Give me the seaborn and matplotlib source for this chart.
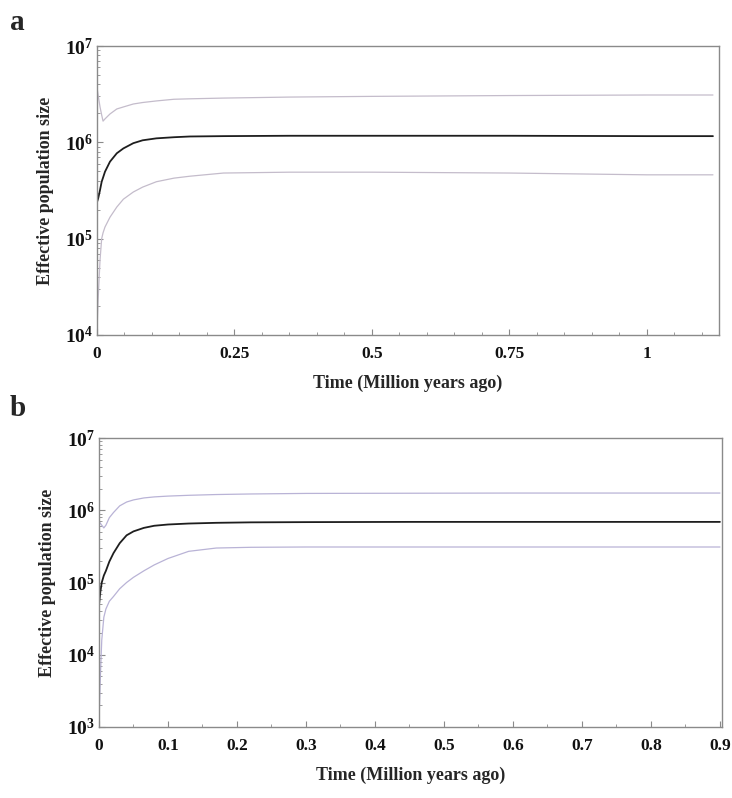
import numpy as np
import pandas as pd
import matplotlib
matplotlib.use("Agg")
import matplotlib.pyplot as plt
import matplotlib.ticker as mticker
import seaborn as sns

# ---- data ----
t_a = [0, 0.002, 0.0055, 0.0085, 0.011, 0.0145, 0.0236, 0.036, 0.048, 0.066, 0.083,
       0.108, 0.14, 0.169, 0.23, 0.35, 0.5, 0.75, 1.0, 1.12]
mid_a = [2.4e5, 2.6e5, 3.2e5, 3.9e5, 4.3e5, 4.95e5, 6.3e5, 7.7e5, 8.65e5, 9.8e5, 1.05e6,
         1.10e6, 1.13e6, 1.15e6, 1.16e6, 1.17e6, 1.17e6, 1.17e6, 1.16e6, 1.16e6]
up_a = [3.7e6, 3.1e6, 2.33e6, 1.92e6, 1.66e6, 1.75e6, 1.97e6, 2.22e6, 2.33e6, 2.5e6, 2.59e6,
        2.69e6, 2.8e6, 2.83e6, 2.88e6, 2.95e6, 3.0e6, 3.06e6, 3.1e6, 3.1e6]
low_a = [1.1e4, 2.3e4, 6e4, 1.0e5, 1.15e5, 1.32e5, 1.67e5, 2.13e5, 2.57e5, 3.05e5, 3.43e5,
         3.9e5, 4.25e5, 4.45e5, 4.8e5, 4.9e5, 4.9e5, 4.8e5, 4.6e5, 4.6e5]

t_b = [0, 0.002, 0.004, 0.007, 0.01, 0.015, 0.021, 0.03, 0.04, 0.05, 0.065, 0.08, 0.1,
       0.13, 0.17, 0.22, 0.3, 0.45, 0.6, 0.8, 0.9]
mid_b = [4.9e4, 7.5e4, 1.0e5, 1.25e5, 1.45e5, 1.95e5, 2.55e5, 3.5e5, 4.5e5, 5.1e5, 5.7e5,
         6.1e5, 6.35e5, 6.55e5, 6.7e5, 6.8e5, 6.85e5, 6.9e5, 6.9e5, 6.9e5, 6.9e5]
up_b = [6.95e5, 6.6e5, 6.2e5, 5.7e5, 6.2e5, 7.9e5, 9.3e5, 1.15e6, 1.3e6, 1.39e6, 1.48e6,
        1.53e6, 1.57e6, 1.61e6, 1.65e6, 1.68e6, 1.71e6, 1.72e6, 1.73e6, 1.73e6, 1.73e6]
low_b = [1.2e3, 5e3, 1.6e4, 3.3e4, 4.3e4, 5.5e4, 6.4e4, 8.2e4, 1.0e5, 1.18e5, 1.45e5,
         1.75e5, 2.15e5, 2.7e5, 3.0e5, 3.07e5, 3.1e5, 3.1e5, 3.1e5, 3.1e5, 3.1e5]

xticks_a = [0, 0.25, 0.5, 0.75, 1]
xticklabels_a = ["0", "0.25", "0.5", "0.75", "1"]
xticks_b = [0, 0.1, 0.2, 0.3, 0.4, 0.5, 0.6, 0.7, 0.8, 0.9]
xticklabels_b = ["0", "0.1", "0.2", "0.3", "0.4", "0.5", "0.6", "0.7", "0.8", "0.9"]

sns.set_theme(style="white")
plt.rcParams["font.family"] = ["Liberation Serif", "DejaVu Serif"]
plt.rcParams["mathtext.fontset"] = "custom"
plt.rcParams["mathtext.rm"] = "Liberation Serif"
plt.rcParams["mathtext.bf"] = "Liberation Serif:bold"

fig = plt.figure(figsize=(7.32, 7.98), dpi=100)
ax_a = fig.add_axes([97 / 732, 1 - 335 / 798, 622 / 732, 289 / 798])
ax_b = fig.add_axes([99 / 732, 1 - 727 / 798, 623 / 732, 289 / 798])

spine_col = "#8a8a8a"
band_col_a = "#c4bccb"
band_col_b = "#b9b3d6"


def draw(ax, t, mid, up, low, band_col, ylim, xlim, xticks, xlabels, minor_step):
    sns.lineplot(x=t, y=up, ax=ax, color=band_col, lw=0.9)
    sns.lineplot(x=t, y=low, ax=ax, color=band_col, lw=0.9)
    sns.lineplot(x=t, y=mid, ax=ax, color="#1e1e1e", lw=1.3)
    ax.set_yscale("log")
    ax.set_ylim(*ylim)
    ax.set_xlim(*xlim)
    ax.set_xticks(xticks)
    ax.set_xticklabels(xlabels, fontsize=12.5, fontweight="bold")
    ax.xaxis.set_minor_locator(mticker.MultipleLocator(minor_step))
    decades = range(int(np.log10(ylim[0])), int(np.log10(ylim[1])) + 1)
    ax.set_yticks([10 ** d for d in decades])
    ax.set_yticklabels([r"$\mathbf{10^{%d}}$" % d for d in decades], fontsize=14)
    ax.yaxis.set_minor_locator(mticker.LogLocator(base=10, subs=np.arange(2, 10)))
    ax.yaxis.set_minor_formatter(mticker.NullFormatter())
    ax.tick_params(axis="both", which="both", bottom=True, left=True, top=False, right=False)
    ax.tick_params(axis="both", which="major", direction="in", length=4, width=0.8,
                   color=spine_col, pad=3, labelcolor="#111111")
    ax.tick_params(axis="both", which="minor", direction="in", length=2, width=0.6,
                   color=spine_col)
    ax.tick_params(axis="x", which="major", pad=8)
    for s in ax.spines.values():
        s.set_visible(True)
        s.set_color(spine_col)
        s.set_linewidth(1.0)
    ax.set_xlabel("Time (Million years ago)", fontsize=13, fontweight="bold", labelpad=9)
    ax.set_ylabel("Effective population size", fontsize=13, fontweight="bold", labelpad=8)
    ax.grid(False)


draw(ax_a, t_a, mid_a, up_a, low_a, band_col_a, (1e4, 1e7), (0, 1.131),
     xticks_a, xticklabels_a, 0.05)
draw(ax_b, t_b, mid_b, up_b, low_b, band_col_b, (1e3, 1e7), (0, 0.903),
     xticks_b, xticklabels_b, 0.05)

fig.text(10 / 732, 1 - 22 / 798, "a", fontsize=21, fontweight="bold", va="center", ha="left")
fig.text(10 / 732, 1 - 408 / 798, "b", fontsize=21, fontweight="bold", va="center", ha="left")

fig.savefig("out.png", dpi=100, facecolor="white")
